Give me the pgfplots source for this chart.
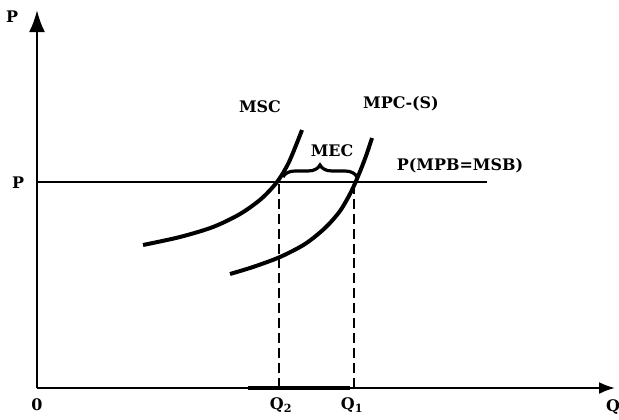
\documentclass[border=0pt]{standalone}
\usepackage{fontspec}
\setmainfont{DejaVu Serif}
\usepackage{pgfplots}
\pgfplotsset{compat=1.18}
\usetikzlibrary{arrows.meta,decorations.pathreplacing}

\begin{document}
\begin{tikzpicture}[font=\fontsize{16}{19}\selectfont\bfseries]
\begin{axis}[
    hide axis, scale only axis,
    x=1bp, y=1bp,
    xmin=-37, xmax=582, ymin=-31, ymax=388,
    clip=false]
\coordinate (bl) at (axis cs:-37,-31);
\coordinate (tr) at (axis cs:582,388);
% axes
\addplot[black, line width=2.6pt, -{Latex[length=22bp,width=16bp]}] coordinates {(0,0) (0,378)};
\addplot[black, line width=2.2pt, -{Latex[length=16bp,width=12bp]}] coordinates {(0,0) (578,0)};
\addplot[black, line width=3.4pt] coordinates {(211,0) (313,0)};
% price line
\addplot[black, line width=2.4pt] coordinates {(0,206) (450,206)};
% MSC
\addplot[black, line width=4pt, smooth] coordinates {
  (106,143) (143,151) (176,161) (203,174) (224,189) (240,206) (252,226) (265,258)};
% MPC-(S)
\addplot[black, line width=4pt, smooth] coordinates {
  (193,114) (216,121) (243,131) (268,144) (288,160) (303,177) (314,196) (322,214) (329,232) (335,250)};
% dashed Q lines
\addplot[black, line width=1.8pt, dash pattern=on 10pt off 5pt] coordinates {(242,0) (242,206)};
\addplot[black, line width=1.8pt, dash pattern=on 10pt off 5pt] coordinates {(317,0) (317,206)};
% brace (MEC)
\draw[black, line width=3.2pt, decorate, decoration={brace, amplitude=12bp}]
  (axis cs:246,211) -- (axis cs:320,211);
% labels
\node at (axis cs:-25,371) {P};
\node at (axis cs:-19,205) {P};
\node at (axis cs:0,-17) {0};
\node at (axis cs:576,-19) {Q};
\node at (axis cs:244,-17) {Q$_{\mathbf 2}$};
\node at (axis cs:315,-17) {Q$_{\mathbf 1}$};
\node at (axis cs:223,281) {MSC};
\node at (axis cs:364,284) {MPC-(S)};
\node at (axis cs:295,237) {MEC};
\node at (axis cs:423,222) {P(MPB=MSB)};
\end{axis}
\pgfresetboundingbox
\path (bl) rectangle (tr);
\end{tikzpicture}
\end{document}
